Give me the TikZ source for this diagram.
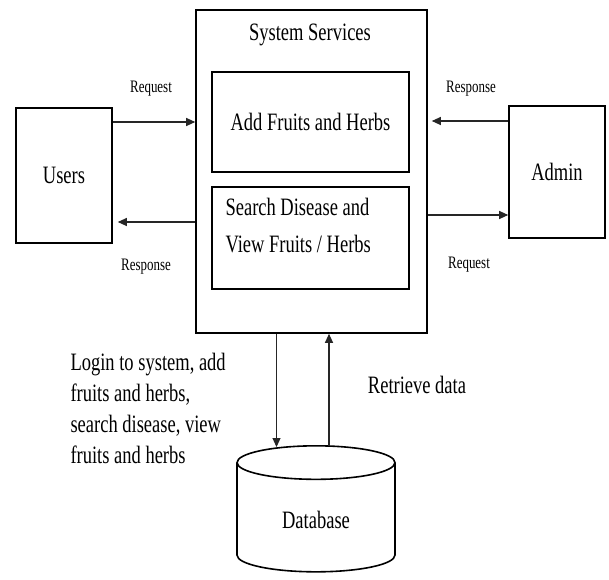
\documentclass[tikz,border=0pt]{standalone}
\usepackage{fontspec}
\setmainfont{Liberation Serif}[FakeStretch=0.74]
\usetikzlibrary{arrows.meta,shapes.geometric}
\tikzset{
  block/.style={draw,line width=1.6pt,inner sep=0pt},
  flow/.style={-{Triangle[length=9pt,width=8pt]},line width=1.1pt,black!85},
  small/.style={font=\fontsize{17.5}{20}\selectfont},
  big/.style={font=\fontsize{25}{28}\selectfont}
}
\begin{document}
\begin{tikzpicture}[x=1pt,y=-1pt]
  \useasboundingbox (0,0) rectangle (609,579);
  %boxes
  \node[block,minimum width=231pt,minimum height=323pt] (sys) at (311.5,171.5) {};
  \node[big] (title) at (310,35) {System Services};
  \node[block,big,minimum width=197pt,minimum height=100pt] (add) at (310.5,122) {Add Fruits and Herbs};
  \node[block,minimum width=197pt,minimum height=102pt] (search) at (310.5,238) {};
  \node[big,align=left,anchor=west,font=\fontsize{25}{37}\selectfont] (searchtxt) at (222,226) {Search Disease and\\View Fruits / Herbs};
  \node[block,big,minimum width=96pt,minimum height=135pt] (users) at (64,175.5) {Users};
  \node[block,big,minimum width=96pt,minimum height=132pt] (admin) at (557,172) {Admin};
  \node[draw,line width=1.6pt,cylinder,shape border rotate=90,shape aspect=0.45,
        minimum width=158pt,minimum height=126pt,big] (db) at (316,520) {Database};

  %arrow levels
  \coordinate (u1) at (0,122);
  \coordinate (u2) at (0,222);
  \coordinate (a1) at (0,121);
  \coordinate (a2) at (0,215);
  \coordinate (d1) at (276.5,0);
  \coordinate (d2) at (329,0);

  \draw[flow] (users.east |- u1) -- (sys.west |- u1);
  \draw[flow] (sys.west |- u2) -- ([xshift=5pt]users.east |- u2);
  \draw[flow] (admin.west |- a1) -- ([xshift=4pt]sys.east |- a1);
  \draw[flow] (sys.east |- a2) -- (admin.west |- a2);
  \draw[flow] (sys.south -| d1) -- ([yshift=-2pt]db.north -| d1);
  \draw[flow] ([yshift=-1pt]db.north -| d2) -- (sys.south -| d2);

  %labels
  \node[small] (req1) at (151,89) {Request};
  \node[small] (res1) at (146,267) {Response};
  \node[small] (res2) at (471,89) {Response};
  \node[small] (req2) at (469,265) {Request};
  \node[big] (retr) at (417,385) {Retrieve data};
  \node[align=left,anchor=west,font=\fontsize{25}{31}\selectfont] (login) at (67,408.5)
    {Login to system, add\\fruits and herbs,\\search disease, view\\fruits and herbs};
\end{tikzpicture}
\end{document}
